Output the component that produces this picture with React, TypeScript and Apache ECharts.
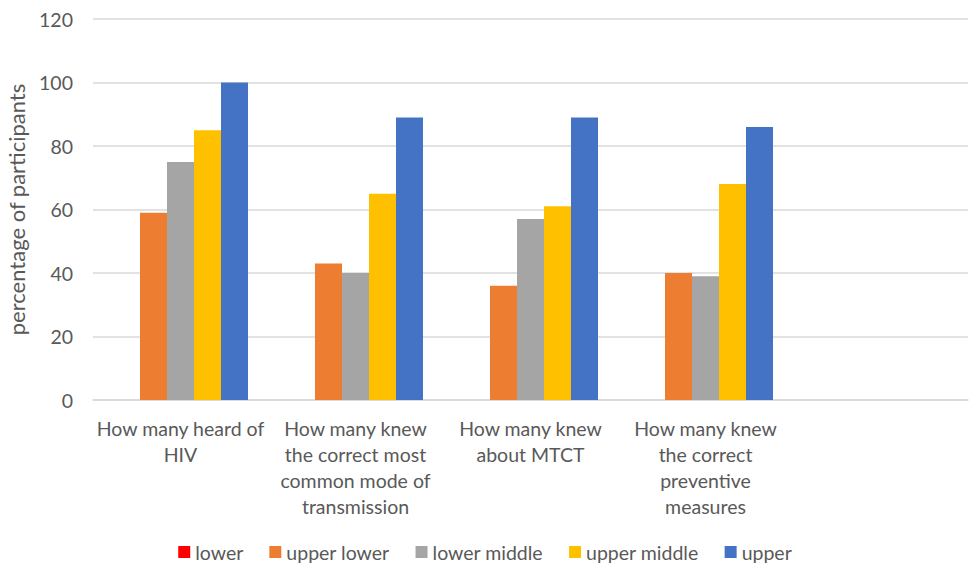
import React, { useEffect, useRef } from "react";
import * as echarts from "echarts";

const categories = [
  "How many heard of\nHIV",
  "How many knew\nthe correct most\ncommon mode of\ntransmission",
  "How many knew\nabout MTCT",
  "How many knew\nthe correct\npreventive\nmeasures",
  "",
];
const seriesNames = ["lower", "upper lower", "lower middle", "upper middle", "upper"];
const lower = [0, 0, 0, 0, null];
const upperLower = [59, 43, 36, 40, null];
const lowerMiddle = [75, 40, 57, 39, null];
const upperMiddle = [85, 65, 61, 68, null];
const upper = [100, 89, 89, 86, null];
const colors = ["#FF0000", "#ED7D31", "#A5A5A5", "#FFC000", "#4472C4"];

const FONT = "Lato";
const TEXT = "#595959";

export default function App() {
  const ref = useRef<HTMLDivElement>(null);
  useEffect(() => {
    if (!ref.current) return;
    const chart = echarts.init(ref.current, undefined, { renderer: "svg" });
    const allData = [lower, upperLower, lowerMiddle, upperMiddle, upper];
    chart.setOption({
      animation: false,
      color: colors,
      textStyle: { fontFamily: FONT, color: TEXT },
      grid: {
        left: 93,
        right: 2,
        top: 19,
        bottom: 164,
        containLabel: false,
        outerBoundsMode: "none",
      },
      legend: {
        top: 541,
        left: "center",
        padding: 0,
        icon: "rect",
        itemWidth: 12,
        itemHeight: 12,
        itemGap: 26,
        textStyle: {
          fontFamily: FONT,
          fontSize: 19.5,
          color: TEXT,
          lineHeight: 22,
        },
        data: seriesNames,
      },
      xAxis: {
        type: "category",
        data: categories,
        axisTick: { show: false },
        axisLine: { lineStyle: { color: "#D9D9D9", width: 1.5 } },
        axisLabel: {
          interval: 0,
          fontFamily: FONT,
          fontSize: 19.5,
          color: TEXT,
          lineHeight: 26,
          margin: 15,
        },
      },
      yAxis: {
        type: "value",
        min: 0,
        max: 120,
        interval: 20,
        name: "percentage of participants",
        nameLocation: "middle",
        nameGap: 66,
        nameTextStyle: { fontFamily: FONT, fontSize: 22, color: TEXT },
        axisLine: { show: false },
        axisTick: { show: false },
        axisLabel: { fontFamily: FONT, fontSize: 19.5, color: TEXT, margin: 20 },
        splitLine: { lineStyle: { color: "#D9D9D9", width: 1.5 } },
      },
      series: seriesNames.map((name, i) => ({
        name,
        type: "bar",
        data: allData[i],
        barGap: "0%",
        barCategoryGap: "22.86%",
        itemStyle: { color: colors[i] },
      })),
    });
    return () => chart.dispose();
  }, []);
  return (
    <div
      ref={ref}
      style={{ position: "absolute", left: 0, top: 0, width: 970, height: 564 }}
    />
  );
}
